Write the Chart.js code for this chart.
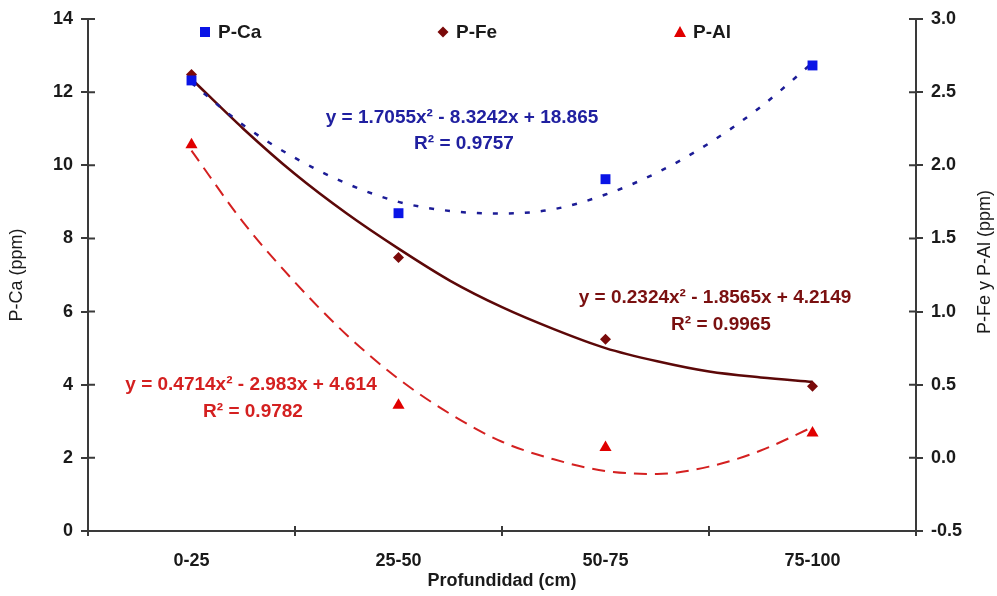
<!DOCTYPE html>
<html>
<head>
<meta charset="utf-8">
<script src="https://cdn.jsdelivr.net/npm/chart.js@4/dist/chart.umd.min.js"></script>
<style>
  html, body { margin: 0; padding: 0; background: #fff; }
  #wrap { width: 997px; height: 596px; }
</style>
</head>
<body>
<div id="wrap"><canvas id="chart"></canvas></div>
<script>
// categories and measured points
const categories = ["0-25", "25-50", "50-75", "75-100"]
const catPos = [1, 2, 3, 4]
const pCa = [12.32, 8.69, 9.62, 12.73]
const pFe = [2.62, 1.37, 0.81, 0.49]
const pAl = [2.14, 0.36, 0.07, 0.17]

// trend curves, every quarter category
const trendPos = [1, 1.25, 1.5, 1.75, 2, 2.25, 2.5, 2.75, 3, 3.25, 3.5, 3.75, 4]
const trendCa = [12.25, 11.1, 10.2, 9.5, 9.0, 8.75, 8.68, 8.8, 9.2, 9.8, 10.6, 11.6, 12.8]
const trendFe = [2.59, 2.25, 1.94, 1.67, 1.43, 1.21, 1.03, 0.88, 0.75, 0.66, 0.59, 0.55, 0.52]
const trendAl = [2.10, 1.61, 1.20, 0.84, 0.54, 0.30, 0.11, -0.01, -0.09, -0.11, -0.06, 0.05, 0.21]

// equations shown on the chart
const eqCa = ["y = 1.7055x\u00b2 - 8.3242x + 18.865", "R\u00b2 = 0.9757"]
const eqFe = ["y = 0.2324x\u00b2 - 1.8565x + 4.2149", "R\u00b2 = 0.9965"]
const eqAl = ["y = 0.4714x\u00b2 - 2.983x + 4.614", "R\u00b2 = 0.9782"]

const seriesNames = ["P-Ca", "P-Fe", "P-Al"]
const leftTitle = "P-Ca (ppm)"
const rightTitle = "P-Fe y P-Al (ppm)"
const xTitle = "Profundidad (cm)"

const FONT = "'Liberation Sans', Arial, sans-serif"
const axisColor = "#3a3a3a"

function pts(xs, ys) {
    return xs.map((x, i) => ({ x: x, y: ys[i] }))
}

// draws the little tick marks inside the plot, the legend and the text notes
const extras = {
    id: "extras",
    afterDraw(chart) {
        const ctx = chart.ctx
        const a = chart.chartArea
        const sx = chart.scales.x, sy = chart.scales.y, sy2 = chart.scales.y2
        ctx.save()
        ctx.strokeStyle = axisColor
        ctx.lineWidth = 2
        ctx.beginPath()
        for (let v = 0; v <= 14; v += 2) {
            const p = sy.getPixelForValue(v)
            ctx.moveTo(a.left, p); ctx.lineTo(a.left + 7, p)
        }
        for (let v = -0.5; v <= 3.0001; v += 0.5) {
            const p = sy2.getPixelForValue(v)
            ctx.moveTo(a.right - 7, p); ctx.lineTo(a.right, p)
        }
        for (let v = 1.5; v <= 3.5; v += 1) {
            const p = sx.getPixelForValue(v)
            ctx.moveTo(p, a.bottom - 5); ctx.lineTo(p, a.bottom)
        }
        ctx.stroke()

        // legend
        const legX = [205, 443, 680]
        const legCol = ["#0a14e6", "#7a0a0a", "#e00000"]
        const ly = 32
        legX.forEach((x, i) => {
            ctx.fillStyle = legCol[i]
            ctx.beginPath()
            if (i === 0) ctx.rect(x - 5, ly - 5, 10, 10)
            else if (i === 1) { ctx.moveTo(x, ly - 5.5); ctx.lineTo(x + 5.5, ly); ctx.lineTo(x, ly + 5.5); ctx.lineTo(x - 5.5, ly) }
            else { ctx.moveTo(x, ly - 6); ctx.lineTo(x + 6, ly + 5); ctx.lineTo(x - 6, ly + 5) }
            ctx.closePath()
            ctx.fill()
            ctx.fillStyle = "#1a1a1a"
            ctx.font = "bold 19px " + FONT
            ctx.textAlign = "left"
            ctx.textBaseline = "middle"
            ctx.fillText(seriesNames[i], x + 13, ly + 1)
        })

        // equations
        ctx.font = "bold 19px " + FONT
        ctx.textAlign = "center"
        ctx.textBaseline = "middle"
        const notes = [
            [eqCa, "#2020a0", 462, 118, 464, 144],
            [eqFe, "#7a1010", 715, 298, 721, 325],
            [eqAl, "#d42020", 251, 385, 253, 412]
        ]
        notes.forEach(n => {
            ctx.fillStyle = n[1]
            ctx.fillText(n[0][0], n[2], n[3])
            ctx.fillText(n[0][1], n[4], n[5])
        })

        // right axis title, read bottom to top
        ctx.fillStyle = "#1a1a1a"
        ctx.font = "18px " + FONT
        ctx.translate(985, 262)
        ctx.rotate(-Math.PI / 2)
        ctx.fillText(rightTitle, 0, 0)
        ctx.restore()
    }
}

const tickFont = { family: FONT, size: 18, weight: "bold" }

new Chart(document.getElementById("chart"), {
    type: "scatter",
    data: {
        datasets: [
            { label: seriesNames[0], data: pts(catPos, pCa), yAxisID: "y", pointStyle: "rect", pointRadius: 7, backgroundColor: "#0a14e6", borderColor: "#0a14e6", borderWidth: 0 },
            { label: seriesNames[1], data: pts(catPos, pFe), yAxisID: "y2", pointStyle: "rectRot", pointRadius: 5.5, backgroundColor: "#7a0a0a", borderColor: "#7a0a0a", borderWidth: 0 },
            { label: seriesNames[2], data: pts(catPos, pAl), yAxisID: "y2", pointStyle: "triangle", pointRadius: 7, backgroundColor: "#e00000", borderColor: "#e00000", borderWidth: 0 },
            { label: "tCa", data: pts(trendPos, trendCa), yAxisID: "y", showLine: true, pointRadius: 0, borderColor: "#1c1c96", borderWidth: 2.5, borderDash: [5, 11], tension: 0.4, cubicInterpolationMode: "monotone" },
            { label: "tFe", data: pts(trendPos, trendFe), yAxisID: "y2", showLine: true, pointRadius: 0, borderColor: "#5c0808", borderWidth: 2.5, tension: 0.4, cubicInterpolationMode: "monotone" },
            { label: "tAl", data: pts(trendPos, trendAl), yAxisID: "y2", showLine: true, pointRadius: 0, borderColor: "#d42020", borderWidth: 2, borderDash: [13, 8], tension: 0.4, cubicInterpolationMode: "monotone" }
        ]
    },
    options: {
        responsive: true,
        maintainAspectRatio: false,
        animation: false,
        layout: { padding: { top: 19, left: 0, right: 0, bottom: 0 } },
        plugins: { legend: { display: false }, tooltip: { enabled: false } },
        scales: {
            x: { type: "linear", min: 0.5, max: 4.5, display: false },
            xc: {
                type: "category", labels: categories, position: "bottom", offset: true,
                grid: { offset: true, drawOnChartArea: false, tickLength: 5, color: axisColor, lineWidth: 2 },
                border: { color: axisColor, width: 2 },
                ticks: { font: tickFont, color: "#1a1a1a", padding: 14 },
                title: { display: true, text: xTitle, font: tickFont, color: "#1a1a1a", padding: { top: 3 } },
                afterFit(s) { s.height = 65 }
            },
            y: {
                position: "left", min: 0, max: 14,
                ticks: { stepSize: 2, font: tickFont, color: "#1a1a1a", padding: 8 },
                grid: { drawOnChartArea: false, tickLength: 7, color: axisColor, lineWidth: 2 },
                border: { color: axisColor, width: 2 },
                title: { display: true, text: leftTitle, font: { family: FONT, size: 18 }, color: "#1a1a1a", padding: { top: 6, bottom: 0 } },
                afterFit(s) { s.width = 88 }
            },
            y2: {
                position: "right", min: -0.5, max: 3,
                ticks: { stepSize: 0.5, font: tickFont, color: "#1a1a1a", padding: 8, callback: v => v.toFixed(1) },
                grid: { drawOnChartArea: false, tickLength: 7, color: axisColor, lineWidth: 2 },
                border: { color: axisColor, width: 2 },
                afterFit(s) { s.width = 81 }
            }
        }
    },
    plugins: [extras]
})
</script>
</body>
</html>
